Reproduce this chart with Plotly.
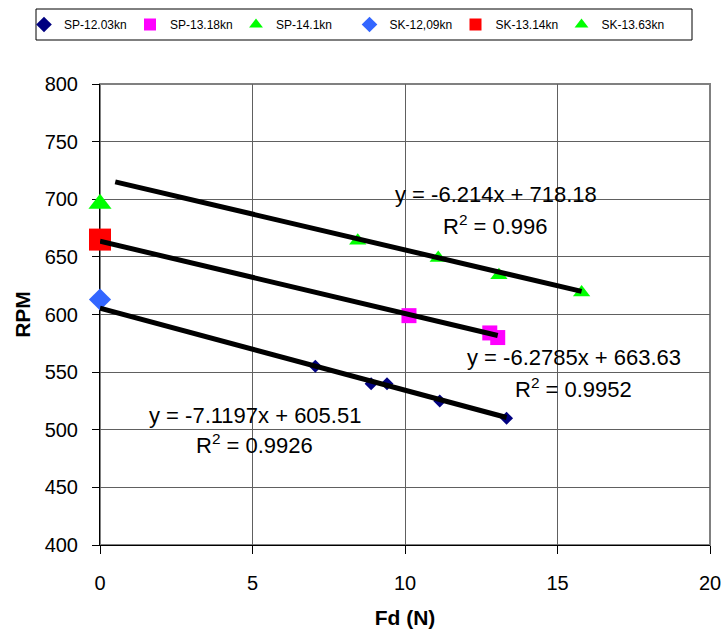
import plotly.graph_objects as go

# ---------------- data ----------------
series_names = ["SP-12.03kn", "SP-13.18kn", "SP-14.1kn", "SK-12,09kn", "SK-13.14kn", "SK-13.63kn"]

sp1203_x = [7.06, 8.89, 9.41, 11.14, 13.33]
sp1203_y = [555, 540, 540, 525, 510]

sp1318_x = [10.13, 12.78, 13.04]
sp1318_y = [599, 584, 580]

sp141_x = [8.45, 11.09, 13.08, 15.79]
sp141_y = [664, 649, 634, 619]

sk1209_x = [0]
sk1209_y = [613]

sk1314_x = [0]
sk1314_y = [665]

sk1363_x = [0]
sk1363_y = [696]

# linear trendlines (Excel): slope, intercept, R^2, backward-forecast start
trend_slopes = [-7.1197, -6.2785, -6.214]
trend_intercepts = [605.51, 663.63, 718.18]
trend_r2 = [0.9926, 0.9952, 0.996]
trend_x_start = [0, 0, 0.5]

x_ticks = [0, 5, 10, 15, 20]
y_ticks = [400, 450, 500, 550, 600, 650, 700, 750, 800]

# ---------------- styling ----------------
FONT = "Liberation Sans, Arial, sans-serif"
colors = ["#000080", "#FF00FF", "#00FF00", "#3366FF", "#FF0000", "#00FF00"]
symbols = ["diamond", "square", "triangle-up", "diamond", "square", "triangle-up"]
sizes = [10, 15, 15, 17, 22, 20]
legend_ids = ["legend", "legend", "legend", "legend2", "legend2", "legend2"]

xs = [sp1203_x, sp1318_x, sp141_x, sk1209_x, sk1314_x, sk1363_x]
ys = [sp1203_y, sp1318_y, sp141_y, sk1209_y, sk1314_y, sk1363_y]

fig = go.Figure()
for name, x, y, c, s, sz, lg in zip(series_names, xs, ys, colors, symbols, sizes, legend_ids):
    fig.add_trace(go.Scatter(
        x=x, y=y, mode="markers", name=name, legend=lg,
        marker=dict(color=c, symbol=s, size=sz, line=dict(width=0)),
        cliponaxis=False,
    ))

# trendlines drawn over markers
trend_series_x = [sp1203_x, sp1318_x, sp141_x]
for m, b, x0, sx in zip(trend_slopes, trend_intercepts, trend_x_start, trend_series_x):
    x1 = max(sx)
    fig.add_trace(go.Scatter(
        x=[x0, x1], y=[m * x0 + b, m * x1 + b], mode="lines",
        line=dict(color="black", width=5), showlegend=False, hoverinfo="skip",
        cliponaxis=False,
    ))

# trendline labels (position in data coordinates)
label_pos = [  # (x, y_eq, y_r2) for each trendline
    (5.08, 512.8, 487.6),
    (15.54, 562.3, 536.2),
    (12.98, 703.7, 677.7),
]
for (lx, ly1, ly2), m, b, r2 in zip(label_pos, trend_slopes, trend_intercepts, trend_r2):
    fig.add_annotation(x=lx, y=ly1, text=f"y = {m}x + {b}", showarrow=False,
                       font=dict(family=FONT, size=22, color="black"),
                       xanchor="center", yanchor="middle")
    fig.add_annotation(x=lx, y=ly2, text=f"R<sup>2</sup> = {r2}", showarrow=False,
                       font=dict(family=FONT, size=22, color="black"),
                       xanchor="center", yanchor="middle")

W, H = 721, 629
L, R, T, B = 100, 11, 84, 84
pw, ph = W - L - R, H - T - B


def px2paper_x(px):
    return (px - L) / pw


def px2paper_y(py):
    return (H - B - py) / ph


# plot-area border (gray)
fig.add_shape(type="rect", xref="paper", yref="paper", x0=0, y0=0, x1=1, y1=1,
              line=dict(color="#808080", width=2), layer="between")
# legend box
fig.add_shape(type="rect", xref="paper", yref="paper",
              x0=px2paper_x(36), x1=px2paper_x(692), y0=px2paper_y(40), y1=px2paper_y(9),
              line=dict(color="black", width=1), fillcolor="rgba(0,0,0,0)")

legend_style = dict(
    orientation="h", xref="container", yref="container",
    y=1 - 24.5 / H, xanchor="left", yanchor="middle",
    font=dict(family=FONT, size=12, color="black"),
    itemsizing="constant", entrywidth=61, entrywidthmode="pixels",
    bgcolor="rgba(0,0,0,0)", borderwidth=0,
)

fig.update_layout(
    width=W, height=H,
    margin=dict(l=L, r=R, t=T, b=B, autoexpand=False),
    paper_bgcolor="white", plot_bgcolor="white",
    font=dict(family=FONT, color="black"),
    showlegend=True,
    legend=dict(x=24 / W, **legend_style),
    legend2=dict(x=(24 + 3 * 108.5) / W, **legend_style),
    xaxis=dict(
        range=[0, 20], tickvals=x_ticks, ticktext=[str(v) for v in x_ticks],
        showgrid=True, gridcolor="#606060", gridwidth=1,
        showline=True, linecolor="black", linewidth=1,
        ticks="outside", ticklen=8, tickcolor="black",
        tickfont=dict(family=FONT, size=20, color="black"),
        ticklabelstandoff=12, ticklabeloverflow="allow",
        zeroline=False, layer="below traces", automargin=False,
        title=dict(text="<b>Fd (N)</b>", font=dict(family=FONT, size=21, color="black"), standoff=17),
    ),
    yaxis=dict(
        range=[400, 800], tickvals=y_ticks, ticktext=[str(v) for v in y_ticks],
        showgrid=True, gridcolor="#606060", gridwidth=1,
        showline=True, linecolor="black", linewidth=1,
        ticks="outside", ticklen=7, tickcolor="black",
        tickfont=dict(family=FONT, size=20, color="black"),
        ticklabelstandoff=10, ticklabeloverflow="allow",
        zeroline=False, layer="below traces", automargin=False,
        title=dict(text="<b>RPM</b>", font=dict(family=FONT, size=21, color="black"), standoff=8),
    ),
)

fig.write_html(
    "out.html",
    config={"displayModeBar": False},
    post_script="document.body.style.margin='0';document.body.style.overflow='hidden';",
)
